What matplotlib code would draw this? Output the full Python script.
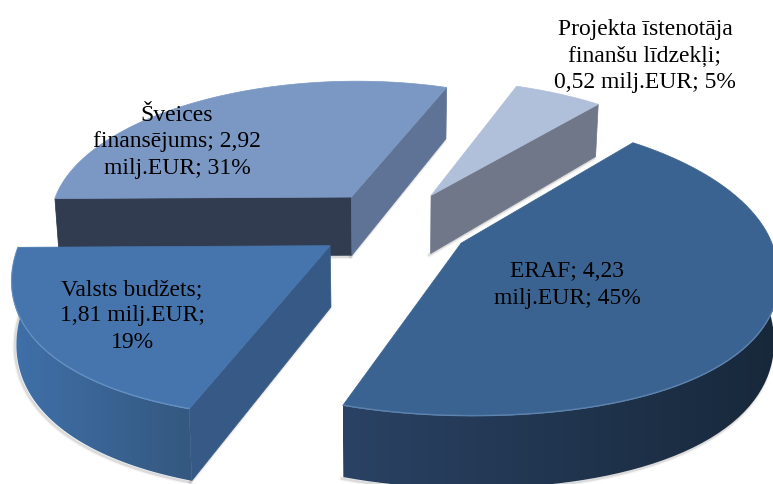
import numpy as np
import matplotlib
matplotlib.use("Agg")
import matplotlib.pyplot as plt
from matplotlib.colors import LinearSegmentedColormap
from matplotlib.patches import Polygon

# data, clockwise from the first slice
names = ["ERAF", "Valsts budžets", "Šveices finansējums", "Projekta īstenotāja finanšu līdzekļi"]
values = [4.23, 1.81, 2.92, 0.52]
labels = ["ERAF; 4,23\nmilj.EUR; 45%",
          "Valsts budžets;\n1,81 milj.EUR;\n19%",
          "Šveices\nfinansējums; 2,92\nmilj.EUR; 31%",
          "Projekta īstenotāja\nfinanšu līdzekļi;\n0,52 milj.EUR; 5%"]

# look of each slice
top_col = ["#3b6391", "#4675ae", "#7b98c4", "#b0bfda"]
wall_left = ["#2a4264", "#4070aa", "#7b98c4", "#b0bfda"]
wall_right = ["#17283a", "#34587f", "#7b98c4", "#b0bfda"]
# radial face at start angle / end angle of a slice, None when it can't be seen
face_start = [None, "#365a85", "#323c50", None]
face_end = [None, None, "#5e7396", "#6f7789"]
label_xy = [(567, 285), (132, 316), (177, 142), (645, 56)]
draw_order = [3, 2, 1, 0]

first_angle = 50.0
explode = 0.25
cx, cy = 394, 225
Rx, Ry = 305, 141
p = 0.15      # perspective along depth
h = 60        # thickness in px
q = 0.013     # walls converge going down
bulge = 0.03  # the front of the original's rim is fuller than an ellipse


def project(x, y, z=0.0):
    s = 1.0 / (1.0 + p * y)
    px = cx + Rx * x * s * (1 - q * z)
    py = cy - Ry * y * s + h * s * z
    return np.column_stack([px, py])


plt.rcParams["font.family"] = ["Liberation Serif", "DejaVu Serif"]
fig = plt.figure(figsize=(7.73, 4.84), dpi=100)
ax = fig.add_axes([0, 0, 1, 1])

sweep = np.array(values) / sum(values) * 360.0
starts = first_angle - np.concatenate([[0], np.cumsum(sweep)[:-1]])


def shadow(pts):
    for w, a in [(3.5, 0.06), (1.8, 0.16)]:
        ax.plot(pts[:, 0] - 1.5, pts[:, 1] + 1.5, color="#555555", lw=w, alpha=a,
                solid_capstyle="round", zorder=zo - 0.5)


zo = 1
for i in draw_order:
    a0 = np.radians(starts[i])
    a1 = np.radians(starts[i] - sweep[i])
    mid = (a0 + a1) / 2
    ox, oy = explode * np.cos(mid), explode * np.sin(mid)
    t = np.linspace(a0, a1, 80)
    r = 1 + bulge * np.sin(2 * t) ** 2 * (np.sin(t) < 0)
    arc_x, arc_y = ox + r * np.cos(t), oy + r * np.sin(t)

    top_arc = project(arc_x, arc_y, 0)
    bot_arc = project(arc_x, arc_y, 1)
    apex_t = project(np.array([ox]), np.array([oy]), 0)
    apex_b = project(np.array([ox]), np.array([oy]), 1)

    # outer wall, only front part (sin<0) can show
    front = np.sin(t) < 0.05
    if front.sum() > 1:
        wall = np.vstack([top_arc[front], bot_arc[front][::-1]])
        shadow(bot_arc[front])
        patch = Polygon(wall, closed=True, fc="none", ec="none", zorder=zo)
        ax.add_patch(patch)
        cmap = LinearSegmentedColormap.from_list("w", [wall_left[i], wall_right[i]])
        im = ax.imshow(np.linspace(0, 1, 256)[None, :], cmap=cmap, aspect="auto", zorder=zo,
                       extent=[wall[:, 0].min(), wall[:, 0].max(), wall[:, 1].max(), wall[:, 1].min()])
        im.set_clip_path(patch)

    # radial faces
    if face_start[i] is not None:
        quad = np.vstack([apex_t, top_arc[0], bot_arc[0], apex_b])
        shadow(np.vstack([apex_b, bot_arc[0]]))
        ax.add_patch(Polygon(quad, closed=True, fc=face_start[i], ec=face_start[i], lw=0.5, zorder=zo + 0.1))
    if face_end[i] is not None:
        quad = np.vstack([apex_t, top_arc[-1], bot_arc[-1], apex_b])
        shadow(np.vstack([apex_b, bot_arc[-1]]))
        ax.add_patch(Polygon(quad, closed=True, fc=face_end[i], ec=face_end[i], lw=0.5, zorder=zo + 0.1))

    # top
    ax.add_patch(Polygon(np.vstack([apex_t, top_arc]), closed=True, fc=top_col[i], ec=top_col[i],
                         lw=0.5, zorder=zo + 0.2))
    if front.sum() > 1:
        ax.plot(top_arc[front][:, 0], top_arc[front][:, 1] - 0.5, color="#9cc0e8", lw=1, alpha=0.3,
                zorder=zo + 0.3)
    zo += 1

for i in range(len(labels)):
    ax.text(label_xy[i][0], label_xy[i][1], labels[i], ha="center", va="center", fontsize=17,
            linespacing=1.36, color="black", zorder=20)

ax.set_xlim(0, 773)
ax.set_ylim(484, 0)
ax.axis("off")
fig.savefig("out.png", dpi=100)
